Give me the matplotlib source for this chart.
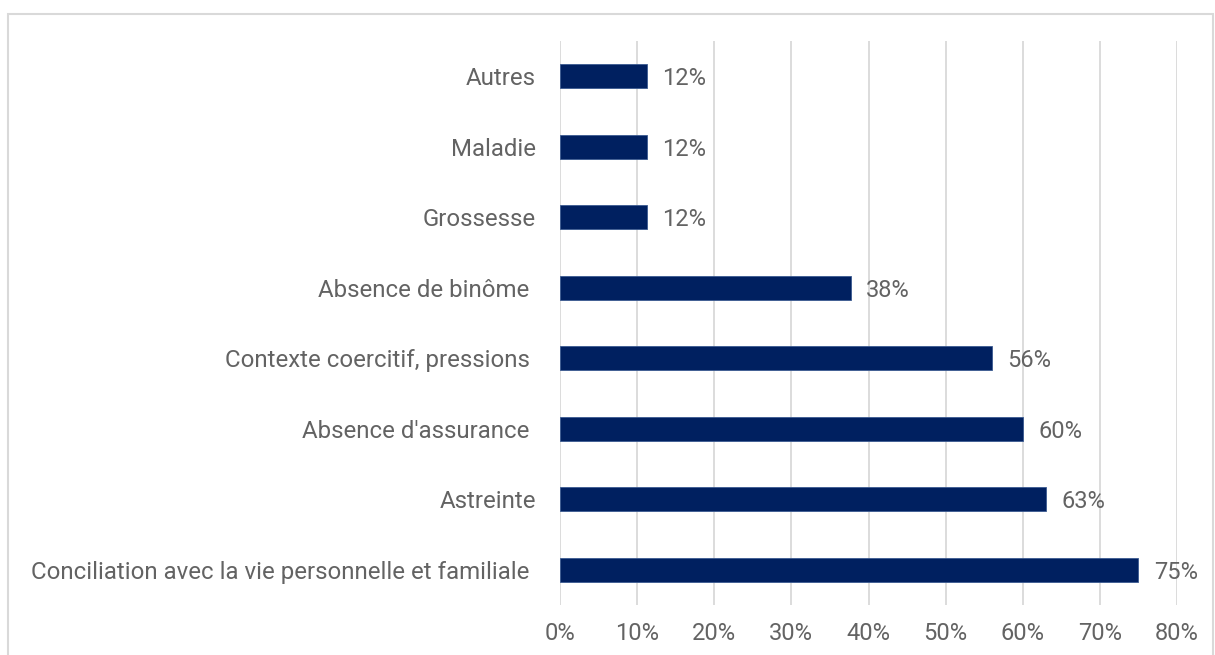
import matplotlib.pyplot as plt
from matplotlib.patches import Rectangle

categories = ["Conciliation avec la vie personnelle et familiale ", "Astreinte",
              "Absence d'assurance ", "Contexte coercitif, pressions ",
              "Absence de binôme ", "Grossesse", "Maladie", "Autres"]
values = [75.0, 63.0, 60.0, 56.0, 37.7, 11.3, 11.3, 11.3]
value_labels = ["75%", "63%", "60%", "56%", "38%", "12%", "12%", "12%"]
ticks = [0, 10, 20, 30, 40, 50, 60, 70, 80]

plt.rcParams['font.family'] = ['Roboto', 'DejaVu Sans']
gray = '#636363'

W, H = 1215, 655
fig = plt.figure(figsize=(W / 100, H / 100), dpi=100)
ax = fig.add_axes([560 / W, 1 - 605.3 / H, (1177 - 560) / W, (605.3 - 40.7) / H])

# cadre gris autour du graphique
fig.patches.append(Rectangle((8 / W, -0.1), (1213 - 8) / W, 1.1 - 14 / H,
                             transform=fig.transFigure, fill=False,
                             edgecolor='#d9d9d9', linewidth=1.5))

y = range(len(categories))
bars = ax.barh(y, values, height=0.34, color='#002060', edgecolor='#3a5a90',
               linewidth=0.6, zorder=3)
for b, lab in zip(bars, value_labels):
    ax.annotate(lab, (b.get_width(), b.get_y() + b.get_height() / 2),
                xytext=(11, 0), textcoords='offset points', va='center_baseline',
                ha='left', fontsize=17, color=gray)

ax.set_xlim(0, 80)
ax.set_ylim(-0.5, len(categories) - 0.5)
ax.set_xticks(ticks)
ax.set_xticklabels([f"{t}%" for t in ticks])
ax.set_yticks(list(y))
ax.set_yticklabels(categories)
ax.tick_params(axis='x', length=0, pad=12, labelsize=17, labelcolor=gray)
ax.tick_params(axis='y', length=0, pad=17.5, labelsize=17.3, labelcolor=gray)
ax.grid(axis='x', color='#d9d9d9', linewidth=1.3, zorder=0)
for s in ax.spines.values():
    s.set_visible(False)

fig.savefig('out.png', dpi=100)
